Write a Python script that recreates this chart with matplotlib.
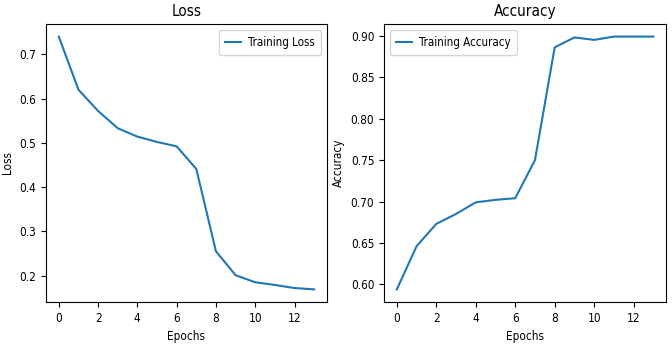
import matplotlib
matplotlib.use("Agg")
import matplotlib.pyplot as plt
from matplotlib.ticker import MultipleLocator

epochs = list(range(14))
train_loss = [0.740, 0.620, 0.572, 0.533, 0.514, 0.502, 0.492, 0.441,
              0.255, 0.201, 0.185, 0.179, 0.172, 0.169]
train_acc = [0.594, 0.646, 0.673, 0.685, 0.699, 0.702, 0.704, 0.750,
             0.886, 0.898, 0.895, 0.899, 0.899, 0.899]

plt.rcParams['font.family'] = ['DejaVu Sans']
plt.rcParams['font.stretch'] = 'condensed'
plt.rcParams['font.size'] = 8.5

fig = plt.figure(figsize=(6.72, 3.45), dpi=100)
ax1 = fig.add_axes([0.0685, 0.1246, 0.418, 0.806])
ax2 = fig.add_axes([0.5714, 0.1246, 0.42, 0.806])

# Loss
ax1.plot(epochs, train_loss, color='#1f77b4', label='Training Loss')
ax1.set_title('Loss', fontsize=11)
ax1.set_xlabel('Epochs')
ax1.set_ylabel('Loss')
ax1.xaxis.set_major_locator(MultipleLocator(2))
ax1.legend(loc='upper right', fontsize=8.3, handlelength=1.4,
           handletextpad=0.6, borderpad=0.55)

# Accuracy
ax2.plot(epochs, train_acc, color='#1f77b4', label='Training Accuracy')
ax2.set_title('Accuracy', fontsize=11)
ax2.set_xlabel('Epochs')
ax2.set_ylabel('Accuracy')
ax2.xaxis.set_major_locator(MultipleLocator(2))
ax2.legend(loc='upper left', fontsize=8.3, handlelength=1.4,
           handletextpad=0.6, borderpad=0.55)

fig.savefig('out.png', dpi=100)
